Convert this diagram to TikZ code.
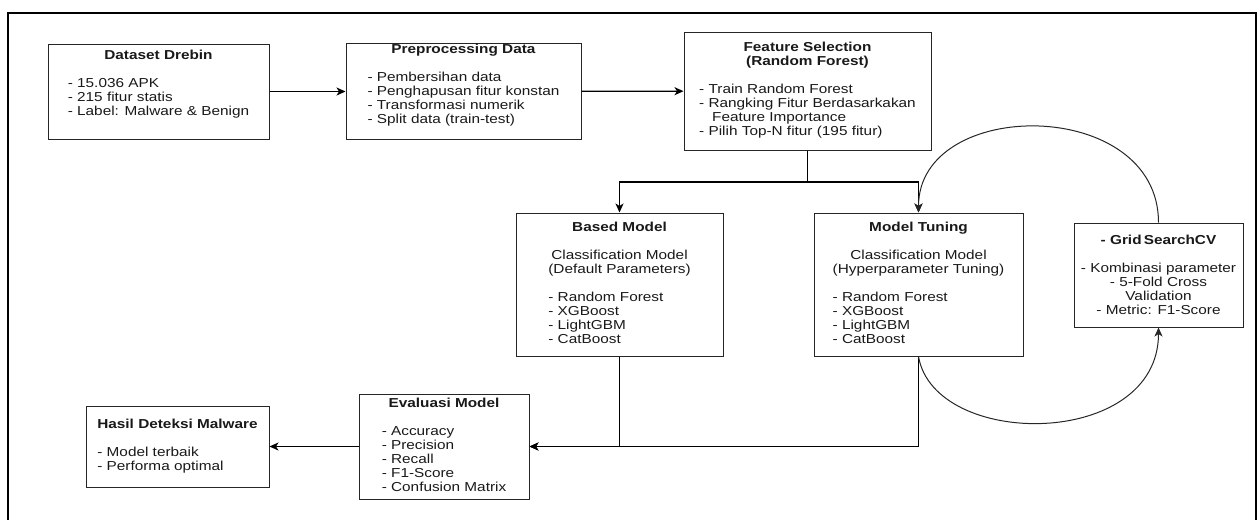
\documentclass[tikz,border=0pt]{standalone}
\usepackage{fontspec}
\setmainfont{Liberation Sans}[FakeStretch=1.18]
\usepackage{tikz}
\usetikzlibrary{positioning,calc,arrows.meta}

\newcommand{\ctr}[1]{\multicolumn{1}{@{}c@{}}{#1}}
\newcommand{\ttl}[1]{\multicolumn{1}{@{}c@{}}{\textbf{#1}}}

\tikzset{
    box/.style={draw=black!85, line width=1pt, rectangle, inner sep=0pt, align=center, text=black!90},
    flow/.style={-{Stealth[length=9pt,width=8pt,inset=2.5pt]}, line width=1.2pt},
    loopline/.style={-{Stealth[length=9pt,width=8pt,inset=2.5pt]}, line width=1pt, black!85},
}

\begin{document}
\begin{tikzpicture}[x=1pt, y=-1pt, font=\fontsize{13}{14}\selectfont]
    \useasboundingbox (0,0) rectangle (1259,520);
    \draw[line width=1.3pt] (8,520) -- (8,13) -- (1256,13) -- (1256,520);

    % top row
    \node (drebin) [box, minimum width=221pt, minimum height=95pt] at (158.5,91.5) {\begin{tabular}{@{}l@{}}\ttl{Dataset Drebin}\\ \\ - 15.036 APK\\ - 215 fitur statis\\ - Label: Malware \& Benign\\[13pt]\end{tabular}};
    \node (prep) [box, minimum width=235pt, minimum height=95pt] at (463.5,91.5) {\begin{tabular}{@{}l@{}}\ttl{Preprocessing Data}\\ \\ - Pembersihan data\\ - Penghapusan fitur konstan\\ - Transformasi numerik\\ - Split data (train-test)\\[12pt]\end{tabular}};
    \node (feat) [box, minimum width=247pt, minimum height=118pt] at (807.5,91) {\begin{tabular}{@{}l@{}}\ttl{Feature Selection}\\ \ttl{(Random Forest)}\\ \\ - Train Random Forest\\ - Rangking Fitur Berdasarkakan\\ \hspace{13pt}Feature Importance\\ - Pilih Top-N fitur (195 fitur)\end{tabular}};

    % middle row
    \node (based) [box, minimum width=207pt, minimum height=143pt] at (619.5,284.5) {\begin{tabular}{@{}l@{}}\ttl{Based Model}\\ \\ \ctr{Classification Model}\\ \ctr{(Default Parameters)}\\ \\ - Random Forest\\ - XGBoost\\ - LightGBM\\ - CatBoost\end{tabular}};
    \node (tuning) [box, minimum width=209pt, minimum height=143pt] at (918.5,284.5) {\begin{tabular}{@{}l@{}}\ttl{Model Tuning}\\ \\ \ctr{Classification Model}\\ \ctr{(Hyperparameter Tuning)}\\ \\ - Random Forest\\ - XGBoost\\ - LightGBM\\ - CatBoost\end{tabular}};
    \node (grid) [box, minimum width=169pt, minimum height=104pt] at (1158.5,275) {\textbf{- Grid\,SearchCV}\\ \\ - Kombinasi parameter\\ - 5-Fold Cross\\ Validation\\ - Metric: F1-Score};

    % bottom row
    \node (eval) [box, minimum width=170pt, minimum height=105pt] at (444,446.5) {\begin{tabular}{@{}l@{}}\ttl{Evaluasi Model}\\ \\ - Accuracy\\ - Precision\\ - Recall\\ - F1-Score\\ - Confusion Matrix\end{tabular}};
    \node (hasil) [box, minimum width=183pt, minimum height=81pt] at (177.5,446.5) {\begin{tabular}{@{}l@{}}\textbf{Hasil Deteksi Malware}\\ \\ - Model terbaik\\ - Performa optimal\end{tabular}};

    \coordinate (split) at (0,182);

    \draw[flow] (drebin) -- (prep);
    \draw[flow] (prep) -- (feat);
    \draw[flow] (feat.south) -- (feat.south |- split) -| (based.north);
    \draw[flow] (feat.south |- split) -| (tuning.north);
    \draw[flow] (based.south) |- (eval.east);
    \draw[flow] (tuning.south) |- (eval.east);
    \draw[flow] (eval) -- (hasil);

    % tuning loop
    \draw[loopline] (grid.north) .. controls +(0,-126) and +(0,-116) .. (tuning.north);
    \draw[loopline] (tuning.south) .. controls +(16,93) and +(0,122) .. (grid.south);
\end{tikzpicture}
\end{document}
